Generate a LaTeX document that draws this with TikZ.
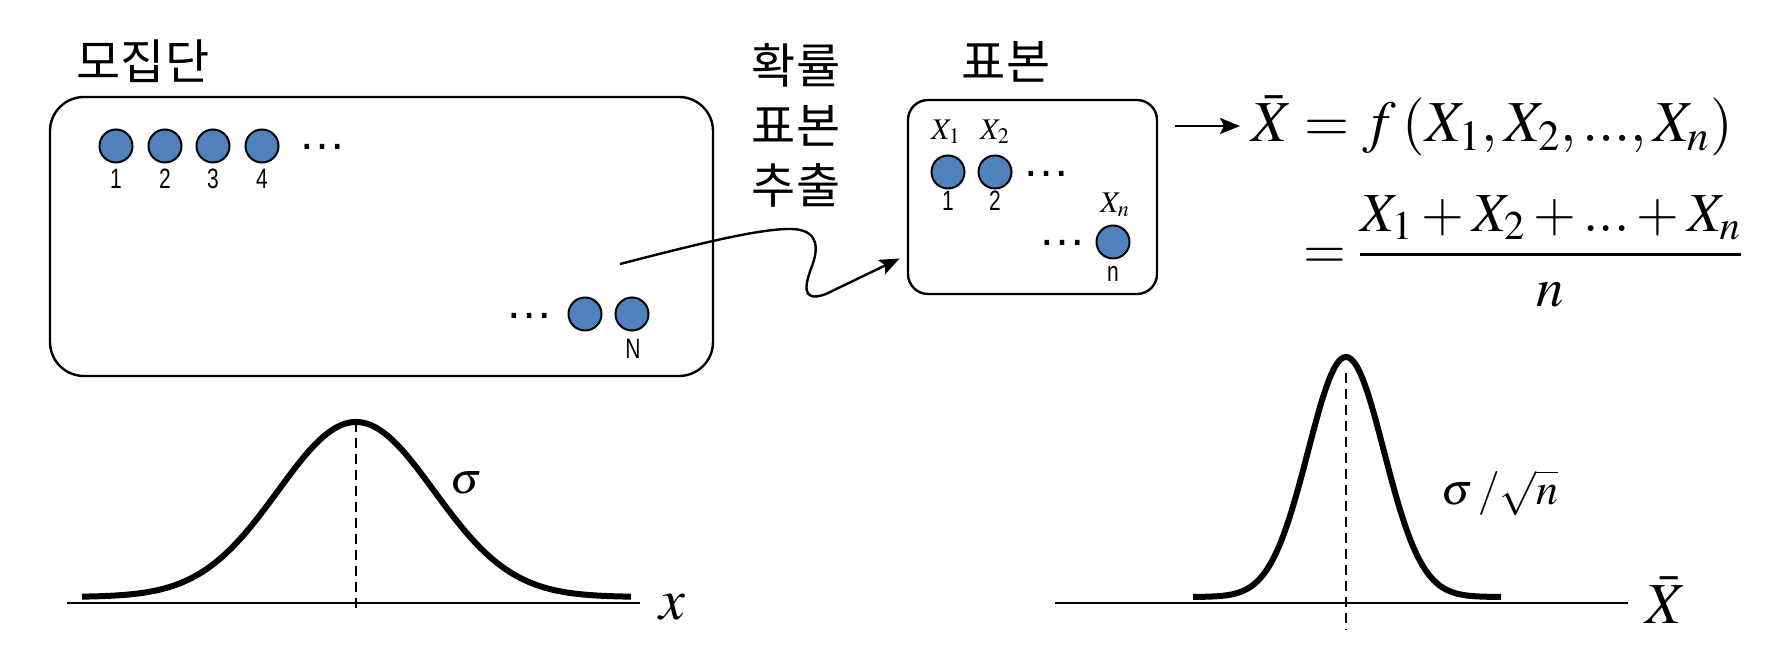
\documentclass[tikz,border=0pt]{standalone}
\usepackage{mathptmx}
\usepackage{fontspec}
\usetikzlibrary{arrows.meta}
\newfontfamily\kofont{Noto Sans CJK KR}
\newfontfamily\numfont[FakeStretch=0.75]{Liberation Sans}
\newfontfamily\dotfont{Liberation Sans}
\definecolor{dotblue}{RGB}{79,129,189}

\begin{document}
\begin{tikzpicture}[x=0.5pt,y=0.5pt,yscale=-1,xscale=1,
  unit/.style={circle,draw,line width=1pt,fill=dotblue,minimum size=16.5pt,inner sep=0pt},
  idx/.style={font=\numfont\fontsize{14}{16}\selectfont},
  more/.style={font=\dotfont\fontsize{24}{26}\selectfont,inner sep=0pt},
  kor/.style={font=\kofont\fontsize{24}{30}\selectfont},
  boxframe/.style={draw,line width=1.2pt,rounded corners=#1},
  eqn/.style={font=\fontsize{29}{34}\selectfont},
  sub/.style={font=\fontsize{15}{18}\selectfont},
  sig/.style={font=\fontsize{22}{26}\selectfont},
  bell/.style={line width=3pt},
  axis/.style={line width=1.2pt},
  mid/.style={line width=0.8pt,dash pattern=on 5pt off 3pt},
  arr/.style={line width=1.2pt,-{Stealth[length=10pt,width=8pt,inset=2pt]}}
]
\useasboundingbox (0,0) rectangle (1770,672);

%Shape: Population box
\node[boxframe=17pt,minimum width=331.5pt,minimum height=139.5pt] (pop) at (381.5,236.5) {};
\node[kor] (poptitle) at (143,61) {모집단};

% population units
\node[unit] (p1) at (116,146) {};
\node[unit] (p2) at (165,146) {};
\node[unit] (p3) at (213,146) {};
\node[unit] (p4) at (262,146) {};
\node[more] (pdots) at (322,147) {…};
\node[idx] (p1num) at (116,179) {1};
\node[idx] (p2num) at (165,179) {2};
\node[idx] (p3num) at (213,179) {3};
\node[idx] (p4num) at (262,179) {4};
\node[more] (qdots) at (529,316) {…};
\node[unit] (pm) at (585,314) {};
\node[unit] (pN) at (632,314) {};
\node[idx] (pNnum) at (633,349) {N};

% Text Node
\node[kor,align=center] (method) at (796,125) {확률\\표본\\추출};

%Shape: Sample box
\node[boxframe=10pt,minimum width=124.5pt,minimum height=97pt] (sbox) at (1032.5,197) {};
\node[kor] (smptitle) at (1006,62) {표본};

% sample units
\node[sub] (x1lab) at (946,132) {$X_1$};
\node[sub] (x2lab) at (995,132) {$X_2$};
\node[unit] (s1) at (948,172) {};
\node[unit] (s2) at (995,172) {};
\node[more] (sdots) at (1046,174) {…};
\node[idx] (s1num) at (948,201) {1};
\node[idx] (s2num) at (995,201) {2};
\node[sub] (xnlab) at (1115,205) {$X_n$};
\node[more] (tdots) at (1062,243) {…};
\node[unit] (sn) at (1113,242) {};
\node[idx] (snnum) at (1113,274) {n};

% Formula
\node[eqn,anchor=west] (eqtop) at (1244,126) {$\bar{X} = f\left(X_1, X_2, ..., X_n\right)$};
\node[eqn,anchor=west,font=\fontsize{27.5}{32}\selectfont] (eqbot) at (1296,251) {$\displaystyle = \frac{X_1 + X_2 + ... + X_n}{n}$};

%Curved arrow
\coordinate (pick) at (620,264);
\coordinate (drop) at (sbox.west |- 0,255);
\draw[arr,shorten >=4pt] (pick) .. controls (690,246) and (760,228) .. (792,229)
  .. controls (820,230) and (818,250) .. (812,266)
  .. controls (806,282) and (799,304) .. (826,294) -- (drop);

%Straight Lines
\draw[arr,shorten <=8.5pt] (sbox.east |- eqtop.west) -- ([xshift=-2pt]eqtop.west);

%Population curve
\draw[axis] (67,603) -- (640,603);
\draw[bell] plot[domain=82:631,samples=120,smooth] (\x,{597-175*exp(-0.5*((\x-356)/78)*((\x-356)/78))});
\draw[mid] (356,422) -- (356,610);
\node[sig] (sigl) at (466,483) {$\sigma$};
\node[eqn] (xlab) at (672,607) {$x$};

%Sampling curve
\draw[axis] (1055,603) -- (1628,603);
\draw[bell] plot[domain=1193:1501,samples=120,smooth] (\x,{597-240*exp(-0.5*((\x-1346)/38)*((\x-1346)/38))});
\draw[mid] (1346,373) -- (1346,630);
\node[sig] (sigr) at (1500,493) {$\sigma\,/\sqrt{n}$};
\node[eqn] (xbarlab) at (1666,600) {$\bar{X}$};

\end{tikzpicture}
\end{document}
